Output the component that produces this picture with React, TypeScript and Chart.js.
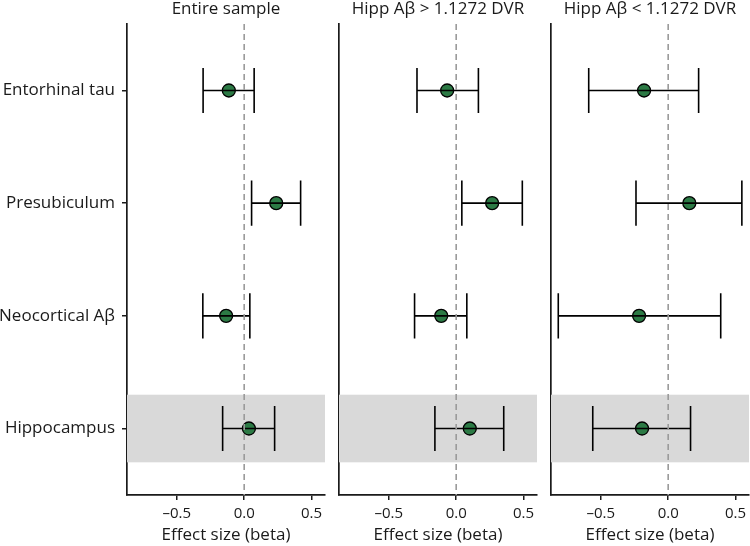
import React, { useEffect, useRef } from "react";
import { Chart, registerables } from "chart.js";

Chart.register(...registerables);

const categories = ["Entorhinal tau", "Presubiculum", "Neocortical Aβ", "Hippocampus"];
const highlighted = "Hippocampus";
const panelTitles = ["Entire sample", "Hipp Aβ > 1.1272 DVR", "Hipp Aβ < 1.1272 DVR"];
const xTicks = [-0.5, 0, 0.5];
const xLabel = "Effect size (beta)";

const entireEst = [-0.114, 0.238, -0.134, 0.035];
const entireLo = [-0.305, 0.055, -0.307, -0.16];
const entireHi = [0.074, 0.419, 0.042, 0.226];

const highEst = [-0.067, 0.267, -0.111, 0.101];
const highLo = [-0.291, 0.042, -0.309, -0.158];
const highHi = [0.165, 0.491, 0.079, 0.353];

const lowEst = [-0.179, 0.157, -0.216, -0.194];
const lowLo = [-0.59, -0.239, -0.816, -0.56];
const lowHi = [0.226, 0.547, 0.39, 0.166];

const FONT = "'Open Sans', 'Noto Sans', sans-serif";
const INK = "#1a1a1a";

type PanelProps = {
  title: string;
  est: number[];
  lo: number[];
  hi: number[];
  showY: boolean;
  left: number;
  width: number;
  yWidth: number;
  padRight: number;
};

function Panel({ title, est, lo, hi, showY, left, width, yWidth, padRight }: PanelProps) {
  const ref = useRef<HTMLCanvasElement | null>(null);

  useEffect(() => {
    if (!ref.current) return;
    const rows = categories.map((c, i) => ({ x: est[i], y: i, lo: lo[i], hi: hi[i] }));

    const forestPlugin = {
      id: "forest",
      beforeDatasetsDraw(chart: any) {
        const { ctx, chartArea, scales } = chart;
        const ys = scales.y;
        const hIdx = categories.indexOf(highlighted);
        const yTop = ys.getPixelForValue(hIdx - 0.3);
        const yBot = ys.getPixelForValue(hIdx + 0.3);
        ctx.save();
        ctx.fillStyle = "#d9d9d9";
        ctx.fillRect(chartArea.left, Math.min(yTop, yBot), chartArea.right - chartArea.left, Math.abs(yBot - yTop));
        ctx.restore();
      },
      afterDatasetsDraw(chart: any) {
        const { ctx, chartArea, scales } = chart;
        const xs = scales.x;
        const ys = scales.y;
        ctx.save();
        ctx.strokeStyle = "#000";
        ctx.lineWidth = 1.6;
        rows.forEach((r) => {
          const yc = ys.getPixelForValue(r.y);
          const y1 = ys.getPixelForValue(r.y - 0.2);
          const y2 = ys.getPixelForValue(r.y + 0.2);
          const xl = xs.getPixelForValue(r.lo);
          const xh = xs.getPixelForValue(r.hi);
          ctx.beginPath();
          ctx.moveTo(xl, yc);
          ctx.lineTo(xh, yc);
          ctx.moveTo(xl, y1);
          ctx.lineTo(xl, y2);
          ctx.moveTo(xh, y1);
          ctx.lineTo(xh, y2);
          ctx.stroke();
        });
        const x0 = xs.getPixelForValue(0);
        ctx.strokeStyle = "#9a9a9a";
        ctx.lineWidth = 1.6;
        ctx.setLineDash([6, 4]);
        ctx.beginPath();
        ctx.moveTo(x0, chartArea.top);
        ctx.lineTo(x0, chartArea.bottom);
        ctx.stroke();
        ctx.setLineDash([]);
        ctx.fillStyle = INK;
        ctx.font = `17px ${FONT}`;
        ctx.textAlign = "center";
        ctx.textBaseline = "middle";
        ctx.fillText(title, (chartArea.left + chartArea.right) / 2, 9);
        ctx.restore();
      },
    };

    const chart = new Chart(ref.current, {
      type: "scatter",
      data: {
        datasets: [
          {
            data: rows.map((r) => ({ x: r.x, y: r.y })),
            pointRadius: 6.5,
            pointHoverRadius: 6.5,
            backgroundColor: "#2c7a45",
            borderColor: "#000",
            borderWidth: 1.3,
            clip: false,
          },
        ],
      },
      options: {
        responsive: false,
        animation: false,
        events: [],
        layout: { autoPadding: false, padding: { top: 24, right: padRight, bottom: 0, left: 0 } },
        plugins: { legend: { display: false }, tooltip: { enabled: false } },
        scales: {
          x: {
            type: "linear",
            min: -0.87,
            max: 0.6,
            afterBuildTicks: (s: any) => {
              s.ticks = xTicks.map((v) => ({ value: v }));
            },
            afterFit: (s: any) => {
              s.height = 51;
              s.paddingLeft = 0;
              s.paddingRight = 0;
            },
            ticks: {
              padding: 5,
              color: INK,
              maxRotation: 0,
              autoSkip: false,
              font: { family: FONT, size: 15 },
              callback: (v: any) => (v < 0 ? "–" + Math.abs(v).toFixed(1) : Number(v).toFixed(1)),
            },
            grid: { display: true, drawOnChartArea: false, drawTicks: true, tickLength: 5, color: INK, lineWidth: 1.5 },
            border: { display: true, color: INK, width: 1.7 },
            title: {
              display: true,
              text: xLabel,
              color: INK,
              font: { family: FONT, size: 17 },
              padding: { top: 0, bottom: 1 },
            },
          },
          y: {
            type: "linear",
            min: -0.59,
            max: 3.59,
            reverse: true,
            afterBuildTicks: (s: any) => {
              s.ticks = categories.map((_, i) => ({ value: i }));
            },
            afterFit: (s: any) => {
              s.width = yWidth;
              s.paddingTop = 0;
              s.paddingBottom = 0;
            },
            ticks: {
              display: showY,
              padding: 7,
              color: INK,
              autoSkip: false,
              font: { family: FONT, size: 17 },
              callback: (v: any) => categories[Math.round(v)] ?? "",
            },
            grid: { display: showY, drawOnChartArea: false, drawTicks: true, tickLength: 5, color: INK, lineWidth: 1.5 },
            border: { display: true, color: INK, width: 1.7 },
          },
        },
      },
      plugins: [forestPlugin],
    } as any);
    return () => chart.destroy();
  }, []);

  return (
    <canvas
      ref={ref}
      width={width}
      height={546}
      style={{ position: "absolute", left, top: 0, width, height: 546, display: "block" }}
    />
  );
}

export default function App() {
  return (
    <div style={{ position: "absolute", left: 0, top: 0, width: 750, height: 546, background: "#fff" }}>
      <Panel title={panelTitles[0]} est={entireEst} lo={entireLo} hi={entireHi} showY={true} left={0} width={330} yWidth={127} padRight={5} />
      <Panel title={panelTitles[1]} est={highEst} lo={highLo} hi={highHi} showY={false} left={330} width={210} yWidth={9} padRight={3} />
      <Panel title={panelTitles[2]} est={lowEst} lo={lowLo} hi={lowHi} showY={false} left={540} width={210} yWidth={11} padRight={1} />
    </div>
  );
}
